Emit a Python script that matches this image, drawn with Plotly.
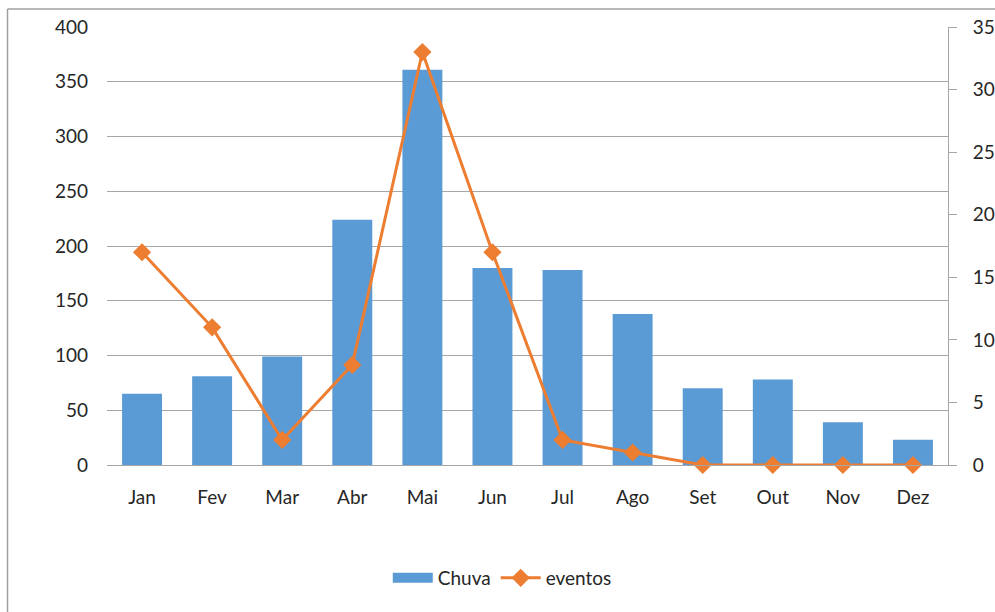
import plotly.graph_objects as go

months = ["Jan", "Fev", "Mar", "Abr", "Mai", "Jun", "Jul", "Ago", "Set", "Out", "Nov", "Dez"]
chuva = [65, 81, 99, 224, 361, 180, 178, 138, 70, 78, 39, 23]
eventos = [17, 11, 2, 8, 33, 17, 2, 1, 0, 0, 0, 0]

W, H = 995, 612
L, R, T, B = 107, 47, 27, 147
pw, ph = W - L - R, H - T - B

FONT = "Lato"
GRID = "#A6A6A6"
BLUE = "#5B9BD5"
ORANGE = "#ED7D31"

fig = go.Figure()
fig.add_trace(go.Bar(x=months, y=chuva, name="Chuva", marker=dict(color=BLUE, line=dict(width=0)),
                     yaxis="y", showlegend=False))
# legend entry for the bar series, drawn as a wide swatch
fig.add_trace(go.Scatter(x=[None], y=[None], name="Chuva", mode="lines",
                         line=dict(color=BLUE, width=15), yaxis="y"))
fig.add_trace(go.Scatter(x=months, y=eventos, name="eventos", mode="lines+markers",
                         line=dict(color=ORANGE, width=3),
                         marker=dict(symbol="diamond", size=14, color=ORANGE),
                         yaxis="y2", cliponaxis=False))

def px2x(px):
    return (px - L) / pw

def py2y(py):
    return (H - B - py) / ph

fig.update_layout(
    width=W, height=H,
    margin=dict(l=L, r=R, t=T, b=B, autoexpand=False),
    paper_bgcolor="white", plot_bgcolor="white",
    font=dict(family=FONT, size=19, color="#262626"),
    bargap=0.43,
    showlegend=True,
    legend=dict(orientation="h", x=0.47, xanchor="center", y=py2y(578), yanchor="middle",
                font=dict(size=19), tracegroupgap=0, itemwidth=40),
    xaxis=dict(type="category", range=[-0.5, len(months) - 0.5], autorange=False,
               showgrid=False, showline=True, linecolor=GRID, linewidth=1, ticks="",
               ticklabelstandoff=15, tickfont=dict(size=19), automargin=False),
    yaxis=dict(range=[0, 400], dtick=50, showgrid=True, gridcolor=GRID, gridwidth=1,
               zeroline=False, showline=False, ticks="", ticklabelstandoff=18,
               tickfont=dict(size=19), automargin=False),
    yaxis2=dict(range=[0, 35], dtick=5, overlaying="y", side="right", showgrid=False,
                zeroline=False, showline=True, linecolor=GRID, linewidth=1,
                ticks="outside", ticklen=8, tickcolor=GRID, ticklabelstandoff=12,
                tickfont=dict(size=19), automargin=False),
    shapes=[
        dict(type="line", xref="paper", yref="paper", x0=px2x(7.5), x1=px2x(7.5),
             y0=py2y(9), y1=py2y(640), line=dict(color="#A0A0A0", width=1.5)),
        dict(type="line", xref="paper", yref="paper", x0=px2x(7.5), x1=px2x(1010),
             y0=py2y(9), y1=py2y(9), line=dict(color="#A0A0A0", width=1.5)),
    ],
)

fig.write_html("out.html")
